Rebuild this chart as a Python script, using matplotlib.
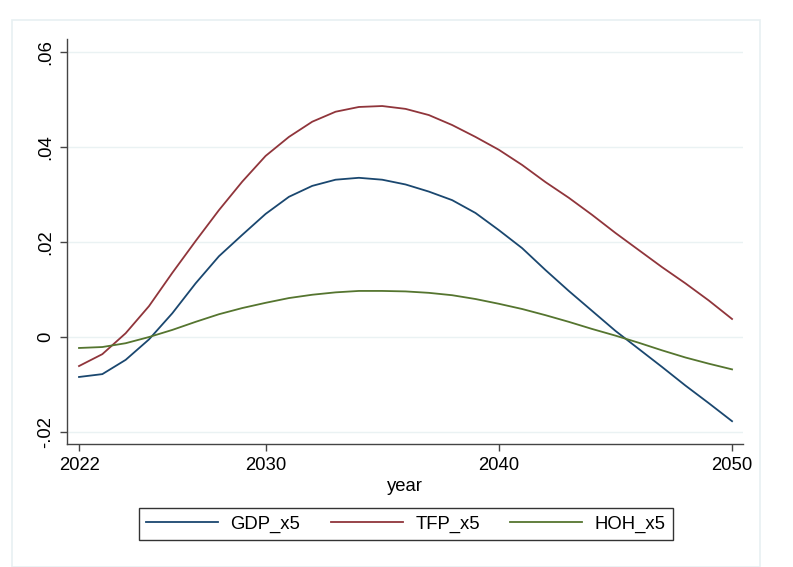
import matplotlib
matplotlib.use("Agg")
import matplotlib.pyplot as plt
from matplotlib.patches import Rectangle

years = list(range(2022, 2051))
gdp_x5 = [-0.0084, -0.0078, -0.0048, -0.0005, 0.0050, 0.0113, 0.0170, 0.0215, 0.0259,
          0.0295, 0.0318, 0.0331, 0.0335, 0.0331, 0.0321, 0.0306, 0.0288, 0.0261, 0.0225,
          0.0187, 0.0141, 0.0097, 0.0055, 0.0013, -0.0025, -0.0063, -0.0102, -0.0139, -0.0177]
tfp_x5 = [-0.0061, -0.0036, 0.0008, 0.0065, 0.0135, 0.0202, 0.0267, 0.0327, 0.0381,
          0.0421, 0.0453, 0.0474, 0.0484, 0.0486, 0.0480, 0.0467, 0.0446, 0.0421, 0.0394,
          0.0362, 0.0326, 0.0293, 0.0257, 0.0219, 0.0183, 0.0147, 0.0113, 0.0077, 0.0038]
hoh_x5 = [-0.0023, -0.0021, -0.0013, 0.0000, 0.0015, 0.0032, 0.0048, 0.0061, 0.0072,
          0.0082, 0.0089, 0.0094, 0.0097, 0.0097, 0.0096, 0.0093, 0.0088, 0.0080, 0.0070,
          0.0059, 0.0046, 0.0032, 0.0017, 0.0003, -0.0012, -0.0028, -0.0043, -0.0056, -0.0068]
series_names = ["GDP_x5", "TFP_x5", "HOH_x5"]
colors = ["#1a476f", "#90353b", "#55752f"]
xticks = [2022, 2030, 2040, 2050]
yticks = [-0.02, 0, 0.02, 0.04, 0.06]
ytick_labels = ["-.02", "0", ".02", ".04", ".06"]

plt.rcParams['font.family'] = ['Liberation Sans', 'DejaVu Sans']
FS = 13.3

W, H = 793, 567
fig = plt.figure(figsize=(W / 100, H / 100), dpi=100)
fig.patch.set_facecolor("white")
fig.add_artist(Rectangle((12 / W, 0), (760 - 12) / W, 1 - 20 / H, transform=fig.transFigure,
                         fill=False, edgecolor="#e8f0f2", linewidth=1.2))

ax = fig.add_axes([67 / W, 1 - 444 / H, (743 - 67) / W, (444 - 39) / H])
for vals, name, c in zip([gdp_x5, tfp_x5, hoh_x5], series_names, colors):
    ax.plot(years, vals, color=c, linewidth=1.3, label=name)

ax.set_xlim(2021.485, 2050.47)
ax.set_ylim(-0.0225, 0.0627)
ax.set_xticks(xticks)
ax.set_xticklabels([str(x) for x in xticks], fontsize=FS)
ax.set_yticks(yticks)
ax.set_yticklabels(ytick_labels, fontsize=FS, rotation=90, va="center")
ax.grid(axis="y", color="#eaf2f3", linewidth=1.0)
ax.set_axisbelow(True)
for s in ["top", "right"]:
    ax.spines[s].set_visible(False)
for s in ["left", "bottom"]:
    ax.spines[s].set_color("#444444")
    ax.spines[s].set_linewidth(1.0)
ax.tick_params(axis="both", direction="out", length=5, width=1, color="#444444", pad=4)
ax.set_xlabel("year", fontsize=FS, labelpad=3)

leg = fig.legend(loc="center", bbox_to_anchor=(406 / W, 1 - 524 / H), ncol=3,
                 fontsize=FS, frameon=True, fancybox=False, edgecolor="black",
                 handlelength=3.9, columnspacing=1.65, handletextpad=0.67,
                 borderpad=0.4)
leg.get_frame().set_linewidth(1.0)

fig.savefig("out.png", dpi=100, facecolor="white")
